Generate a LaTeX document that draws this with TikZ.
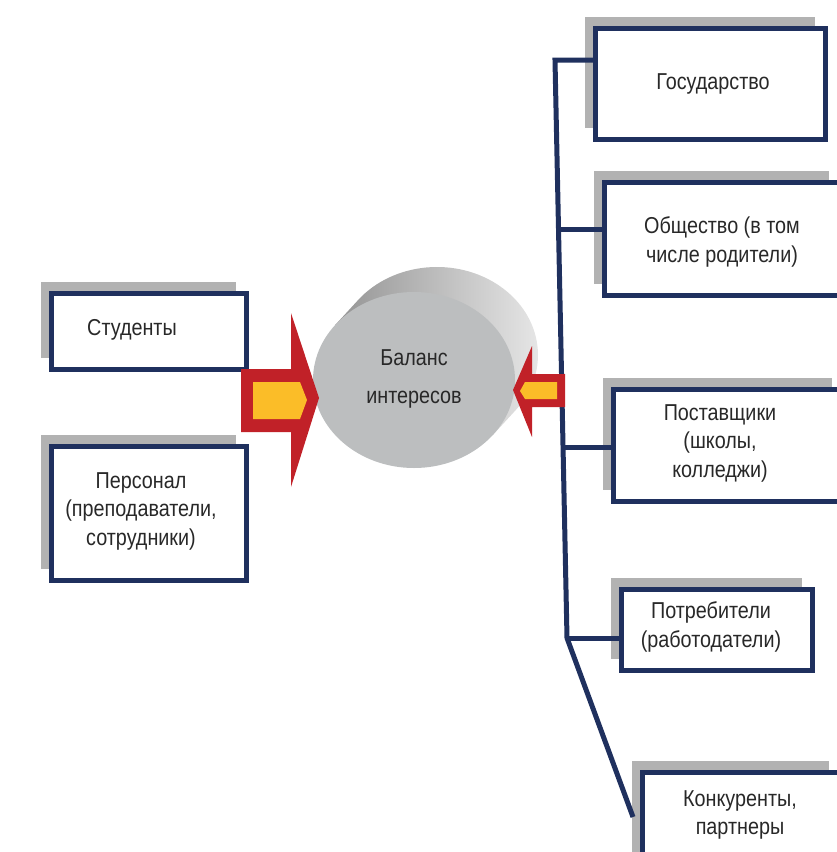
\documentclass[tikz,border=0pt]{standalone}
\usepackage{fontspec}
\setmainfont{Liberation Sans}[FakeStretch=0.86]
\usetikzlibrary{shadows,calc}
\definecolor{navy}{RGB}{31,48,94}
\definecolor{boxshadow}{RGB}{178,178,178}
\definecolor{arrowred}{RGB}{193,33,40}
\definecolor{arrowyel}{RGB}{251,189,40}
\definecolor{cylfront}{RGB}{188,190,191}
\definecolor{textgray}{RGB}{40,40,40}

\begin{document}
\begin{tikzpicture}[
                      x = 1pt,
                      y = {(0,-1pt)},
      every node/.style = {text=textgray, font=\fontsize{23}{28.5}\selectfont, align=center},
             box/.style = {draw=navy, line width=5.5pt, fill=white, inner sep=0pt,
                           general shadow={fill=boxshadow, shadow xshift=-11pt, shadow yshift=12pt}},
            link/.style = {draw=navy, line width=5pt},
                     ]
\useasboundingbox (0,0) rectangle (837,852);
\clip (0,0) rectangle (837,852);

% boxes
\node[box, minimum width=195pt, minimum height=76pt]  (stud) at (149,331.5) {};
\node[box, minimum width=195pt, minimum height=134pt] (pers) at (149,513.5) {};
\node[box, minimum width=230pt, minimum height=111pt] (gos)  at (710.5,84)  {};
\node[box, minimum width=235pt, minimum height=113pt] (obsh) at (722,239)   {};
\node[box, minimum width=229pt, minimum height=112pt] (post) at (728,445.5) {};
\node[box, minimum width=191pt, minimum height=81pt]  (potr) at (717,630)   {};
\node[box, minimum width=197pt, minimum height=115pt] (kon)  at (741,830)   {};

\node (stud-t) at (132,330) {Студенты};
\node (pers-t) at (141,511) {Персонал\\(преподаватели,\\сотрудники)};
\node (gos-t)  at (713,84)  {Государство};
\node (obsh-t) at (722,242) {Общество (в том\\числе родители)};
\node (post-t) at (720,443) {Поставщики\\(школы,\\колледжи)};
\node (potr-t) at (711,627) {Потребители\\(работодатели)};
\node (kon-t)  at (740,815) {Конкуренты,\\партнеры};

% connectors
\coordinate (top)  at (555,60);
\coordinate (bot)  at (567,638);
\coordinate (kend) at (633,817);
\coordinate (j2) at ($(top)!0.294!(bot)$);
\coordinate (j3) at ($(top)!0.670!(bot)$);
\draw[link] (top -| gos.west) -- (top) -- (bot) -- (kend);
\draw[link] (j2) -- (j2 -| obsh.west);
\draw[link] (j3) -- (j3 -| post.west);
\draw[link] (bot) -- (bot -| potr.west);

% cylinder
\coordinate (cf) at (414,380);
\coordinate (cb) at (437,355);
\shade[left color=black!42, right color=black!8]
    ($(cf)+(78.8,55)$) -- ($(cb)+(78.8,55)$)
    arc[start angle=38.7, end angle=-141.3, x radius=101, y radius=88]
    -- ($(cf)+(-78.8,-55)$) -- cycle;
\fill[cylfront] (cf) ellipse[x radius=101, y radius=88];

% arrows
\fill[arrowred] (241,369) -- (291,369) -- (291,313) -- (319,398) -- (291,487) -- (291,432) -- (241,432) -- cycle;
\fill[arrowyel] (253,382) -- (300,382) -- (307,400) -- (300,419) -- (253,419) -- cycle;
\fill[arrowred] (565,374) -- (532,374) -- (532,346) -- (513,390) -- (532,437) -- (532,407) -- (565,407) -- cycle;
\fill[arrowyel] (557,382) -- (525,382) -- (520,391) -- (525,399) -- (557,399) -- cycle;

\node[font=\fontsize{23}{38}\selectfont] (bal) at (414,379) {Баланс\\интересов};
\end{tikzpicture}
\end{document}
